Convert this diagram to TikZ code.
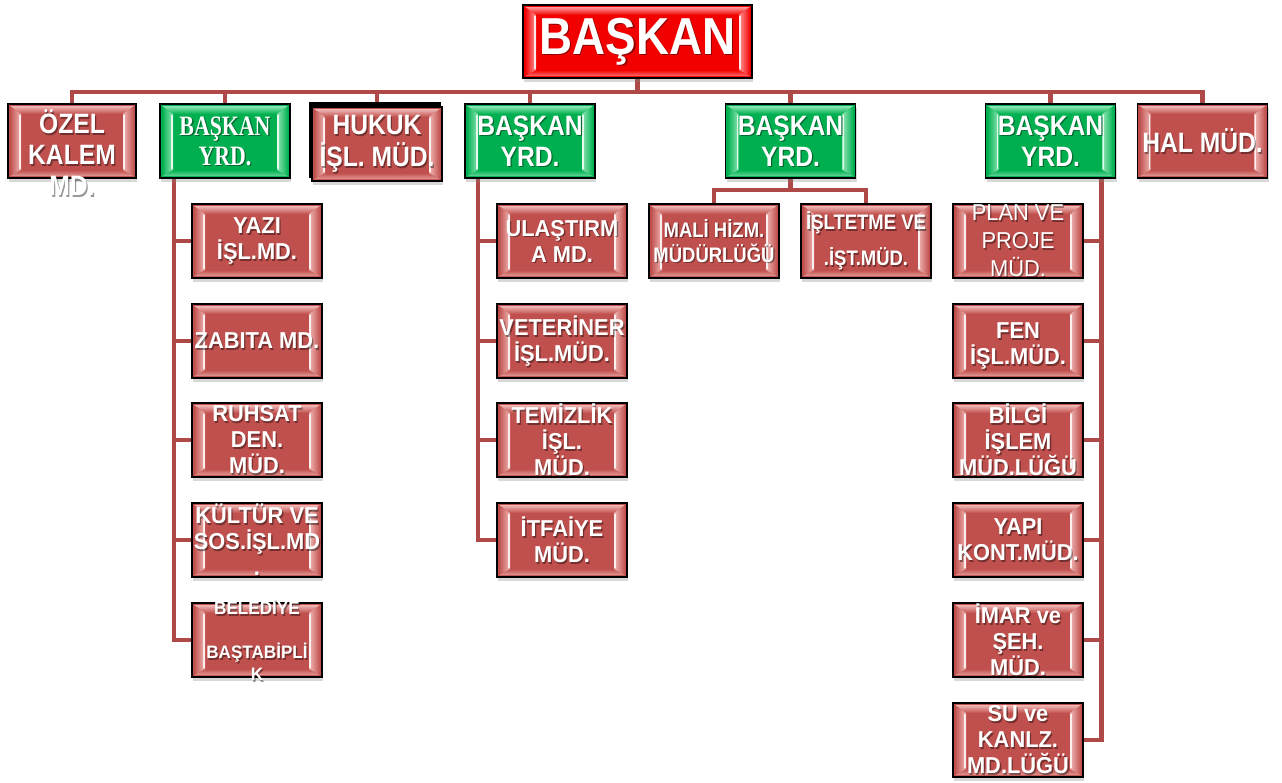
\documentclass[tikz,border=0pt]{standalone}
\usepackage{fontspec}
\setmainfont{Liberation Sans}
\newfontfamily\headfont{Liberation Sans}[FakeStretch=0.88]
\newfontfamily\unitfont{Liberation Sans}[FakeStretch=0.95]
\newfontfamily\yrdfont{Liberation Serif}[FakeStretch=0.78]
\usetikzlibrary{shadows,backgrounds}

\definecolor{unitred}{HTML}{C0504D}
\definecolor{unitlight}{HTML}{F0B8B6}
\definecolor{topred}{HTML}{F20000}
\definecolor{toplight}{HTML}{FF9A9A}
\definecolor{yrdgreen}{HTML}{00B050}
\definecolor{yrdlight}{HTML}{8FE6B5}
\definecolor{linkred}{HTML}{AE4947}

\tikzset{
  bevel/.style 2 args={path picture={
    \path (path picture bounding box.south west) coordinate (sw)
          (path picture bounding box.north west) coordinate (nw)
          (path picture bounding box.south east) coordinate (se)
          (path picture bounding box.north east) coordinate (ne);
    % top and bottom faces
    \shade[top color=#2, bottom color=#1] ([shift={(2pt,-2pt)}]nw) -- ([shift={(-2pt,-2pt)}]ne)
      -- ([shift={(-13pt,-10pt)}]ne) -- ([shift={(13pt,-10pt)}]nw) -- cycle;
    \shade[top color=#1, bottom color=#2!70!#1] ([shift={(2pt,2pt)}]sw) -- ([shift={(-2pt,2pt)}]se)
      -- ([shift={(-13pt,8pt)}]se) -- ([shift={(13pt,8pt)}]sw) -- cycle;
    % left and right faces
    \shade[left color=#1, right color=#2] ([shift={(2pt,2pt)}]sw) -- ([shift={(13pt,8pt)}]sw)
      -- ([shift={(13pt,-10pt)}]nw) -- ([shift={(2pt,-2pt)}]nw) -- cycle;
    \shade[left color=#2, right color=#1] ([shift={(-2pt,2pt)}]se) -- ([shift={(-13pt,8pt)}]se)
      -- ([shift={(-13pt,-10pt)}]ne) -- ([shift={(-2pt,-2pt)}]ne) -- cycle;
    \draw[white, opacity=0.8, line width=1.2pt] ([shift={(12pt,9pt)}]sw) -- ([shift={(12pt,-11pt)}]nw);
    \draw[white, opacity=0.8, line width=1.2pt] ([shift={(-12pt,9pt)}]se) -- ([shift={(-12pt,-11pt)}]ne);
  }},
  box/.style={rectangle, draw=black, line width=1.6pt, minimum width=130pt, minimum height=74pt, inner sep=0pt,
    drop shadow={opacity=0.3, shadow xshift=1pt, shadow yshift=-4pt}},
  unit/.style={box, fill=unitred, bevel={unitred}{unitlight}},
  yrd/.style={box, fill=yrdgreen, bevel={yrdgreen}{yrdlight}},
  txt/.style={text=white, align=center, inner sep=0pt, font=\unitfont\bfseries\fontsize{23}{26}\selectfont},
  htxt/.style={txt, font=\headfont\bfseries\fontsize{28}{31}\selectfont},
  caption/.style 2 args={
    label={[txt, #1, text=black, text opacity=0.4, shift={(1.3pt,-1.6pt)}]center:{#2}},
    label={[txt, #1]center:{#2}}},
  link/.style={draw=linkred, line width=4.5pt}
}

\begin{document}
\begin{tikzpicture}[x=1pt, y=-1pt]
  \useasboundingbox (0,0) rectangle (1282,782);
  \begin{scope}[on background layer]
    \fill[white] (0,0) rectangle (1282,782);
  \end{scope}

  % head
  \node[box, fill=topred, bevel={topred}{toplight}, minimum width=229pt, minimum height=73pt,
    caption={htxt, font=\headfont\bfseries\fontsize{52}{56}\selectfont}{BAŞKAN}] (top) at (637.5,41.5) {};

  % first level
  \node[unit, minimum width=128pt, caption={htxt, yshift=-12pt}{ÖZEL\\KALEM\\MD.}] (ozel) at (72,141) {};
  \node[yrd, caption={htxt, font=\yrdfont\bfseries\fontsize{28}{30}\selectfont}{BAŞKAN\\YRD.}] (yrdA) at (225,141) {};
  \node[unit, caption={htxt, font=\headfont\bfseries\fontsize{28}{32}\selectfont}{HUKUK\\İŞL. MÜD.}] (hukuk) at (377,144) {};
  \node[yrd, caption={htxt}{BAŞKAN\\YRD.}] (yrdB) at (530,141) {};
  \node[yrd, caption={htxt}{BAŞKAN\\YRD.}] (yrdC) at (790.5,141) {};
  \node[yrd, caption={htxt}{BAŞKAN\\YRD.}] (yrdD) at (1050.5,141) {};
  \node[unit, caption={htxt}{HAL MÜD.}] (hal) at (1202.5,141) {};

  % under yrdA
  \node[unit, caption={}{YAZI\\İŞL.MD.}] (yazi) at (257,241) {};
  \node[unit, caption={}{ZABITA MD.}] (zabita) at (257,341) {};
  \node[unit, caption={}{RUHSAT\\DEN.\\MÜD.}] (ruhsat) at (257,440) {};
  \node[unit, caption={}{KÜLTÜR VE\\SOS.İŞL.MD\\.}] (kultur) at (257,540) {};
  \node[unit, caption={font=\unitfont\bfseries\fontsize{18}{22}\selectfont}{BELEDİYE\\\mbox{}\\BAŞTABİPLİ\\K}] (tabip) at (257,640) {};

  % under yrdB
  \node[unit, caption={}{ULAŞTIRM\\A MD.}] (ulasim) at (562,241) {};
  \node[unit, caption={}{VETERİNER\\İŞL.MÜD.}] (veteriner) at (562,341) {};
  \node[unit, caption={}{TEMİZLİK\\İŞL.\\MÜD.}] (temizlik) at (562,440) {};
  \node[unit, caption={}{İTFAİYE\\MÜD.}] (itfaiye) at (562,540) {};

  % under yrdC
  \node[unit, caption={font=\headfont\bfseries\fontsize{21}{25}\selectfont}{MALİ HİZM.\\MÜDÜRLÜĞÜ}] (mali) at (714,241) {};
  \node[unit, caption={font=\headfont\bfseries\fontsize{21}{36}\selectfont}{İŞLTETME VE\\.İŞT.MÜD.}] (isletme) at (866,241) {};

  % under yrdD
  \node[unit, caption={font=\unitfont\fontsize{23}{28}\selectfont}{PLAN VE\\PROJE\\MÜD.}] (plan) at (1018,241) {};
  \node[unit, caption={}{\mbox{}\\FEN\\İŞL.MÜD.}] (fen) at (1018,341) {};
  \node[unit, caption={}{BİLGİ\\İŞLEM\\MÜD.LÜĞÜ}] (bilgi) at (1018,440) {};
  \node[unit, caption={}{YAPI\\KONT.MÜD.}] (yapi) at (1018,540) {};
  \node[unit, caption={}{İMAR ve\\ŞEH.\\MÜD.}] (imar) at (1018,640) {};
  \node[unit, caption={}{SU ve\\KANLZ.\\MD.LÜĞÜ}] (su) at (1018,740) {};

  \begin{scope}[on background layer]
    \coordinate (bus) at (637.5,92);
    \coordinate (forkC) at (790.5,190);
    \draw[link] (top.south) -- (bus);
    \foreach \n in {ozel,yrdA,hukuk,yrdB,yrdC,yrdD,hal}
      \draw[link] (bus) -| (\n.north);
    \foreach \n in {yazi,zabita,ruhsat,kultur,tabip}
      \draw[link] ([xshift=-51pt]yrdA.south) |- (\n.west);
    \foreach \n in {ulasim,veteriner,temizlik,itfaiye}
      \draw[link] ([xshift=-52pt]yrdB.south) |- (\n.west);
    \draw[link] (yrdC.south) -- (forkC);
    \foreach \n in {mali,isletme}
      \draw[link] (forkC) -| (\n.north);
    \foreach \n in {plan,fen,bilgi,yapi,imar,su}
      \draw[link] ([xshift=51pt]yrdD.south) |- (\n.east);
    % second frame behind the HUKUK box
    \fill[black] ([shift={(-2pt,4pt)}]hukuk.south west) rectangle ([shift={(-2pt,4pt)}]hukuk.north east);
  \end{scope}
\end{tikzpicture}
\end{document}
